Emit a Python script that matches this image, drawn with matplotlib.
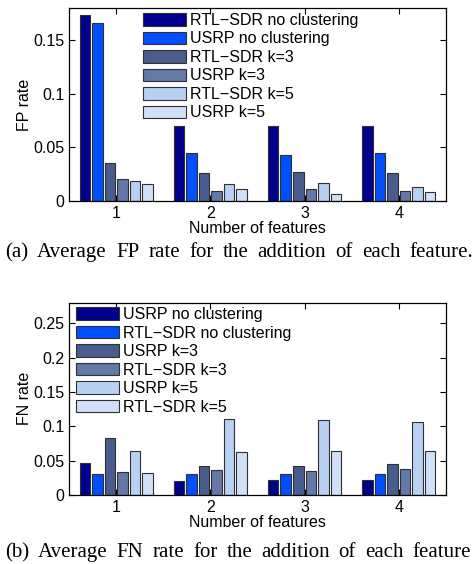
import numpy as np
import matplotlib
matplotlib.use('Agg')
import matplotlib.pyplot as plt

plt.rcParams['font.family'] = ['Liberation Sans', 'DejaVu Sans']

features = [1, 2, 3, 4]

# FP rate (top chart)
fp_labels = ['RTL−SDR no clustering', 'USRP no clustering', 'RTL−SDR k=3',
             'USRP k=3', 'RTL−SDR k=5', 'USRP k=5']
fp_rtl_nc = [0.1735, 0.0700, 0.0695, 0.0695]
fp_usrp_nc = [0.1665, 0.0447, 0.0425, 0.0447]
fp_rtl_k3 = [0.0352, 0.0258, 0.0267, 0.0258]
fp_usrp_k3 = [0.0204, 0.0094, 0.0110, 0.0094]
fp_rtl_k5 = [0.0189, 0.0154, 0.0164, 0.0126]
fp_usrp_k5 = [0.0157, 0.0110, 0.0066, 0.0079]

# FN rate (bottom chart)
fn_labels = ['USRP no clustering', 'RTL−SDR no clustering', 'USRP k=3',
             'RTL−SDR k=3', 'USRP k=5', 'RTL−SDR k=5']
fn_usrp_nc = [0.0461, 0.0204, 0.0214, 0.0223]
fn_rtl_nc = [0.0306, 0.0306, 0.0306, 0.0306]
fn_usrp_k3 = [0.0825, 0.0422, 0.0417, 0.0451]
fn_rtl_k3 = [0.0330, 0.0359, 0.0345, 0.0374]
fn_usrp_k5 = [0.0640, 0.1100, 0.1090, 0.1070]
fn_rtl_k5 = [0.0316, 0.0621, 0.0646, 0.0646]

caption_a = '(a) Average FP rate for the addition of each feature.'
caption_b = '(b) Average FN rate for the addition of each feature'

colors = ['#00008c', '#0050ff', '#485c8e', '#6479a8', '#b8d1f2', '#cfe0f8']
FS = 11.5


def grouped(ax, series, labels, ylim, yticks, ylabel, leg_anchor):
    x = np.array(features)
    slot = 0.133
    for j, vals in enumerate(series):
        ax.bar(x + (j - 2.5) * slot, vals, width=0.112, color=colors[j],
               edgecolor='#303030', linewidth=0.8, label=labels[j])
    ax.set_xlim(0.5, 4.5)
    ax.set_ylim(*ylim)
    ax.set_xticks(features)
    ax.set_yticks(yticks)
    ax.set_yticklabels(['0' if t == 0 else ('%g' % t) for t in yticks])
    ax.tick_params(direction='in', top=True, right=True, length=4,
                   labelsize=FS, width=0.8)
    ax.set_xlabel('Number of features', fontsize=FS, labelpad=0)
    ax.set_ylabel(ylabel, fontsize=FS, labelpad=1)
    for s in ax.spines.values():
        s.set_linewidth(0.9)
    ax.legend(loc='upper left', bbox_to_anchor=leg_anchor, frameon=False,
              fontsize=FS, handlelength=2.7, handleheight=0.83,
              handletextpad=0.25, labelspacing=0.22, borderpad=0,
              borderaxespad=0)


def justified(fig, text, x0, x1, y, size):
    # LaTeX-style justified caption: spread the words between x0 and x1 (pixels)
    words = text.split()
    r = fig.canvas.get_renderer()
    objs = [fig.text(0, y, w, fontsize=size, family=['Liberation Serif'],
                     va='baseline', ha='left') for w in words]
    widths = [o.get_window_extent(r).width for o in objs]
    gap = (x1 - x0 - sum(widths)) / (len(words) - 1)
    pos = x0
    for o, w in zip(objs, widths):
        o.set_x(pos / fig.bbox.width)
        pos += w + gap


fig = plt.figure(figsize=(4.77, 5.64), dpi=100)

ax1 = fig.add_axes([0.1447, 0.644, 0.790, 0.3417])
grouped(ax1, [fp_rtl_nc, fp_usrp_nc, fp_rtl_k3, fp_usrp_k3, fp_rtl_k5, fp_usrp_k5],
        fp_labels, (0, 0.18), [0, 0.05, 0.1, 0.15], 'FP rate', (0.196, 0.975))

ax2 = fig.add_axes([0.1447, 0.1223, 0.790, 0.341])
grouped(ax2, [fn_usrp_nc, fn_rtl_nc, fn_usrp_k3, fn_rtl_k3, fn_usrp_k5, fn_rtl_k5],
        fn_labels, (0, 0.28), [0, 0.05, 0.1, 0.15, 0.2, 0.25], 'FN rate', (0.018, 0.977))

justified(fig, caption_a, 5, 473, 1 - 257 / 564, 15)
justified(fig, caption_b, 5, 471, 1 - 557 / 564, 15)

fig.savefig('out.png', dpi=100)
